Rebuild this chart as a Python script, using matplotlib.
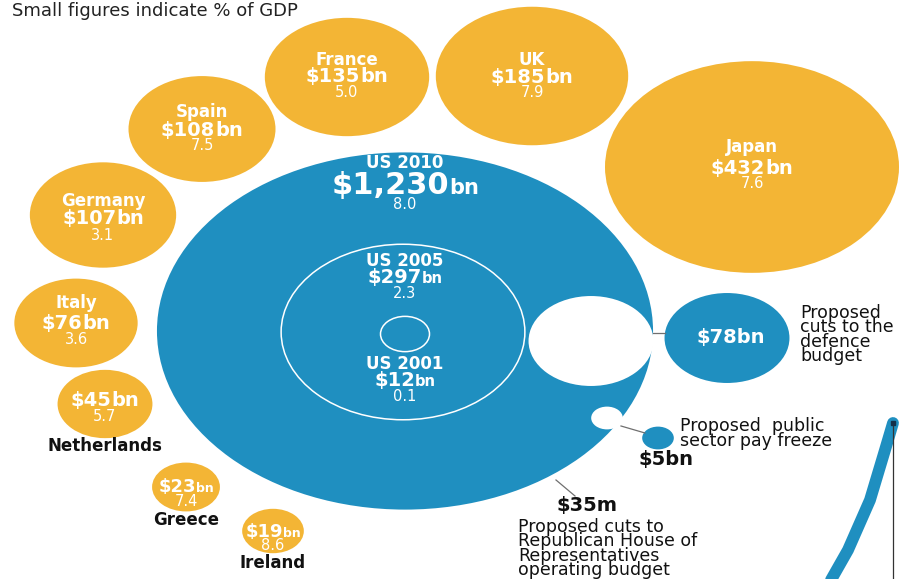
import matplotlib
matplotlib.use("Agg")
import matplotlib.pyplot as plt
from matplotlib.patches import Ellipse
import numpy as np

# defence spending in $bn, small figure is % of GDP
countries = ["Japan", "UK", "France", "Spain", "Germany", "Italy",
             "Netherlands", "Greece", "Ireland"]
spend_bn = [432, 185, 135, 108, 107, 76, 45, 23, 19]
gdp_pct = ["7.6", "7.9", "5.0", "7.5", "3.1", "3.6", "5.7", "7.4", "8.6"]

us_years = ["US 2010", "US 2005", "US 2001"]
us_bn = [1230, 297, 12]
us_pct = ["8.0", "2.3", "0.1"]

cuts_bn = [78, 5, 0.035]
cut_labels = ["$78bn", "$5bn", "$35m"]
cut_notes = [["Proposed", "cuts to the", "defence", "budget"],
             ["Proposed  public", "sector pay freeze"],
             ["Proposed cuts to", "Republican House of",
              "Representatives", "operating budget"]]

# edge of the next panel's line, coming in from the right
trend_x = [893, 885, 870, 848, 827]
trend_y = [423, 450, 500, 550, 587]

ORANGE = "#F3B535"
BLUE = "#1F8FC0"
K = 147 / np.sqrt(432)   # px of half-width per sqrt($bn)
SQ = 0.72                 # bubbles are drawn squashed vertically
LINE = 14.7               # baseline step of the notes, px

fig = plt.figure(figsize=(9.02, 5.79), dpi=100)
ax = fig.add_axes([0, 0, 1, 1])
ax.set_xlim(0, 902)
ax.set_ylim(579, 0)
ax.axis("off")
rend = fig.canvas.get_renderer()


def bubble(x, y, val, color, **kw):
    hw = K * np.sqrt(val)
    e = Ellipse((x, y), 2 * hw, 2 * hw * SQ, facecolor=color,
                edgecolor="none", **kw)
    ax.add_patch(e)
    return hw


def money(x, y, num, unit, size, usize, color="white"):
    # number and a smaller "bn", centred together on x
    t1 = ax.text(0, y, num, fontsize=size, fontweight="bold", color=color,
                 ha="left", va="baseline")
    t2 = ax.text(0, y, unit, fontsize=usize, fontweight="bold", color=color,
                 ha="left", va="baseline")
    w1 = t1.get_window_extent(rend).width
    w2 = t2.get_window_extent(rend).width
    left = x - (w1 + w2) / 2
    t1.set_x(left)
    t2.set_x(left + w1)


def small(x, y, s, color="white"):
    ax.text(x, y, s, fontsize=10.5, color=color, ha="center", va="baseline")


def note(x, y, lines):
    # y is the first baseline; matplotlib anchors the last one
    y_last = y + LINE * (len(lines) - 1)
    ax.text(x, y_last, "\n".join(lines), fontsize=12.5, color="#111111",
            ha="left", va="baseline", linespacing=0.75)


# centres and label baselines (name, money, pct) for the countries
c_pos = [(752, 167), (532, 76), (347, 77), (202, 129), (103, 215),
         (76, 323), (105, 404), (186, 487), (273, 531)]
c_lab = [(152, 174, 188), (65, 83, 97), (65, 82, 97), (117, 136, 150),
         (206, 224, 240), (308, 329, 344), (451, 406, 421),
         (525, 492, 506), (568, 537, 550)]

for i, name in enumerate(countries):
    x, y = c_pos[i]
    bubble(x, y, spend_bn[i], ORANGE)
    yn, ym, yp = c_lab[i]
    num = "$%d" % spend_bn[i]
    if spend_bn[i] < 40:
        money(x, ym, num, "bn", 13, 9)
        small(x, yp, gdp_pct[i])
        ax.text(x, yn, name, fontsize=12, fontweight="bold", color="#111111",
                ha="center", va="baseline")
    elif spend_bn[i] < 60:
        money(x, ym, num, "bn", 14, 14)
        small(x, yp, gdp_pct[i])
        ax.text(x, yn, name, fontsize=12, fontweight="bold", color="#111111",
                ha="center", va="baseline")
    else:
        money(x, ym, num, "bn", 14, 14)
        small(x, yp, gdp_pct[i])
        ax.text(x, yn, name, fontsize=12, fontweight="bold", color="white",
                ha="center", va="baseline")

# US bubble with the earlier years as rings inside it
us_c = [(405, 331), (403, 332), (405, 334)]
bubble(*us_c[0], us_bn[0], BLUE)
for j in (1, 2):
    hw = K * np.sqrt(us_bn[j])
    ax.add_patch(Ellipse(us_c[j], 2 * hw, 2 * hw * SQ, facecolor="none",
                         edgecolor="white", lw=1.1))

us_lab = [(168, 194, 209), (266, 283, 298), (369, 386, 401)]
us_size = [(22, 15), (14, 10.5), (14, 10.5)]
for j, yr in enumerate(us_years):
    yn, ym, yp = us_lab[j]
    ax.text(405, yn, yr, fontsize=12, fontweight="bold", color="white",
            ha="center", va="baseline")
    num = "${:,}".format(us_bn[j])
    money(405, ym, num, "bn", *us_size[j])
    small(405, yp, us_pct[j])

# proposed cuts: a white hole in the US bubble, the cut beside it
hole_c = [(591, 341), (607, 418), (555, 478)]
cut_c = [(727, 338), (658, 438), None]
grey = "#6f6f6f"

hw = bubble(*hole_c[0], cuts_bn[0], "white")
hw2 = bubble(*cut_c[0], cuts_bn[0], BLUE)
ax.plot([hole_c[0][0] + hw, cut_c[0][0] - hw2], [333, 333], color=grey, lw=0.9)
ax.text(731, 343, cut_labels[0], fontsize=14, fontweight="bold", color="white",
        ha="center", va="baseline")
note(800, 317, cut_notes[0])

bubble(*hole_c[1], cuts_bn[1], "white")
bubble(*cut_c[1], cuts_bn[1], BLUE)
ax.plot([621, 645], [426, 433], color=grey, lw=0.9)
ax.text(638, 465, cut_labels[1], fontsize=14, fontweight="bold",
        color="#111111", ha="left", va="baseline")
note(680, 431, cut_notes[1])

ax.add_patch(Ellipse(hole_c[2], 4, 3, facecolor="white", edgecolor="none"))
ax.plot([556, 575], [480, 496], color=grey, lw=0.9)
ax.text(556, 511, cut_labels[2], fontsize=14, fontweight="bold",
        color="#111111", ha="left", va="baseline")
note(518, 531, cut_notes[2])

# start of the trend line on the right
ax.plot(trend_x, trend_y, color=BLUE, lw=8.5, solid_capstyle="round")
ax.plot([trend_x[0], trend_x[0]], [trend_y[0], 579], color="#333333", lw=0.9)
ax.plot(trend_x[0], trend_y[0], "s", color="#14304a", ms=3.5)

ax.text(12, 16, "Small figures indicate % of GDP", fontsize=13,
        color="#222222", ha="left", va="baseline")

fig.savefig("out.png", dpi=100)
